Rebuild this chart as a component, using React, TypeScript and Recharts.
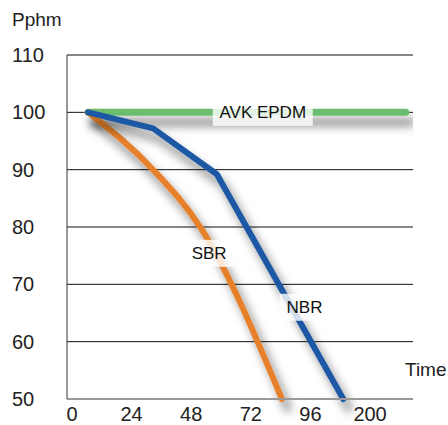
import React from "react";
import {
  LineChart,
  Line,
  XAxis,
  YAxis,
  CartesianGrid,
  ReferenceDot,
} from "recharts";

// tick labels along the time axis (one per column)
const timeLabels = ["0", "24", "48", "72", "96", "200"];
const yTicks = [50, 60, 70, 80, 90, 100, 110];

// series, x in column units (0 = "0", 1 = "24", ...)
const epdmX = [0.27, 5.6];
const epdmY = [100, 100];

const nbrX = [0.27, 1.36, 2.43, 4.55];
const nbrY = [100, 97.2, 89.2, 50];

const sbrX = [0.27, 1.36, 2.15, 3.52];
const sbrY = [100, 90, 80, 50];

// series name labels
const labelNames = ["AVK EPDM", "SBR", "NBR"];
const labelX = [3.2, 2.3, 3.9];
const labelY = [100, 75.4, 66];

const toPoints = (xs: number[], ys: number[]) =>
  xs.map((x, i) => ({ x, y: ys[i] }));

const FONT = "'Liberation Sans', Arial, sans-serif";

const YTick = (props: any) => {
  const { y, payload } = props;
  return (
    <text x={12} y={y} dy={7} fontSize={20} fill="#222" fontFamily={FONT} textAnchor="start">
      {payload.value}
    </text>
  );
};

const XTick = (props: any) => {
  const { x, y, payload } = props;
  return (
    <text x={x} y={y} dy={14} fontSize={20} fill="#222" fontFamily={FONT} textAnchor="middle">
      {timeLabels[payload.value]}
    </text>
  );
};

const NameTag = (name: string) => (props: any) => {
  const { cx, cy } = props;
  const w = name.length * 10 + 20;
  const h = 27;
  return (
    <g>
      <rect x={cx - w / 2} y={cy - h / 2} width={w} height={h} fill="#fff" fillOpacity={0.8} />
      <text x={cx} y={cy} dy={6} textAnchor="middle" fontSize={17} fill="#111" fontFamily={FONT}>
        {name}
      </text>
    </g>
  );
};

export default function App() {
  const epdm = toPoints(epdmX, epdmY);
  const nbr = toPoints(nbrX, nbrY);
  const sbr = toPoints(sbrX, sbrY);

  return (
    <div style={{ position: "absolute", left: 0, top: 0, width: 448, height: 425, background: "#fff", fontFamily: FONT }}>
      <div style={{ position: "absolute", left: 12, top: 9, fontSize: 19, color: "#222" }}>Pphm</div>
      <div style={{ position: "absolute", left: 405, top: 359, fontSize: 19, color: "#222" }}>Time</div>

      <LineChart width={448} height={425} margin={{ top: 55, right: 35, bottom: 0, left: 0 }}>
        <defs>
          <filter id="shadow" filterUnits="userSpaceOnUse" x={0} y={0} width={448} height={425}>
            <feDropShadow dx={6} dy={10} stdDeviation={5} floodColor="#000" floodOpacity={0.5} />
          </filter>
        </defs>
        <CartesianGrid horizontal vertical={false} stroke="#111" strokeWidth={1} />
        <XAxis
          dataKey="x"
          type="number"
          domain={[-0.084, 5.72]}
          ticks={[0, 1, 2, 3, 4, 5]}
          allowDataOverflow
          height={26}
          tickLine={false}
          axisLine={{ stroke: "#999", strokeWidth: 2 }}
          tick={<XTick />}
        />
        <YAxis
          type="number"
          domain={[50, 110]}
          ticks={yTicks}
          width={67}
          tickLine={false}
          axisLine={{ stroke: "#333" }}
          tick={<YTick />}
        />
        <Line
          data={epdm}
          dataKey="y"
          type="linear"
          stroke="#6abd6e"
          strokeWidth={7}
          strokeLinecap="round"
          dot={false}
          filter="url(#shadow)"
          isAnimationActive={false}
        />
        <Line
          data={sbr}
          dataKey="y"
          type="monotone"
          stroke="#e7802a"
          strokeWidth={6}
          strokeLinecap="round"
          dot={false}
          filter="url(#shadow)"
          isAnimationActive={false}
        />
        <Line
          data={nbr}
          dataKey="y"
          type="linear"
          stroke="#1f58a3"
          strokeWidth={6}
          strokeLinecap="round"
          strokeLinejoin="round"
          dot={false}
          filter="url(#shadow)"
          isAnimationActive={false}
        />
        {labelNames.map((name, i) => (
          <ReferenceDot
            key={name}
            x={labelX[i]}
            y={labelY[i]}
            r={0}
            shape={NameTag(name)}
            ifOverflow="visible"
          />
        ))}
      </LineChart>
    </div>
  );
}
